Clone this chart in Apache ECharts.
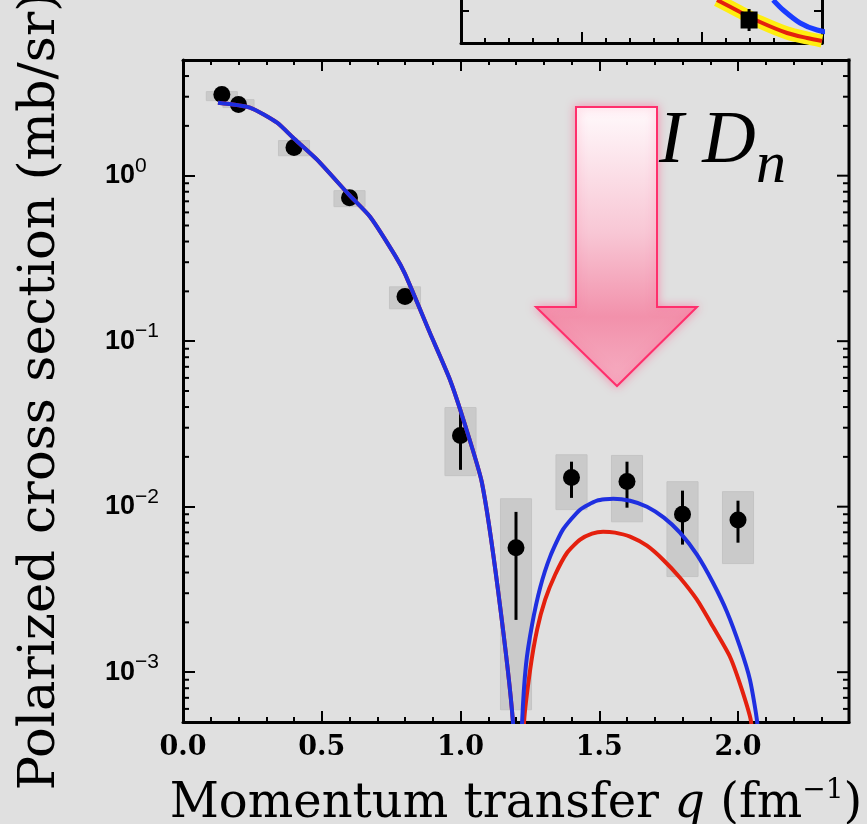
<!DOCTYPE html>
<html><head><meta charset="utf-8">
<script src="https://cdn.jsdelivr.net/npm/echarts@6/dist/echarts.min.js"></script>
<style>html,body{margin:0;padding:0;background:#e0e0e0;}#c{width:867px;height:824px;}</style>
</head><body><div id="c"></div>
<script>
// ---- measured data points (q in fm^-1, cross section in mb/sr) ----
const qData  = [0.14, 0.20, 0.40, 0.60, 0.80, 1.00, 1.20, 1.40, 1.60, 1.80, 2.00];
const sigma  = [3.09, 2.69, 1.48, 0.736, 0.186, 0.0269, 0.00565, 0.0150, 0.0142, 0.0090, 0.0083];
const errLo  = [3.00, 2.60, 1.43, 0.71, 0.175, 0.0167, 0.00207, 0.0113, 0.00986, 0.0059, 0.00606];
const errHi  = [3.18, 2.78, 1.53, 0.76, 0.198, 0.0370, 0.0093, 0.0187, 0.0187, 0.0125, 0.01087];
const sysLo  = [2.84, 2.58, 1.32, 0.650, 0.157, 0.0154, 0.000593, 0.0096, 0.0081, 0.00378, 0.00453];
const sysHi  = [3.22, 2.88, 1.63, 0.812, 0.213, 0.0397, 0.01117, 0.0206, 0.0204, 0.01416, 0.01233];

// ---- theory curves ----
const blueQ = [0.126, 0.241, 0.339, 0.396, 0.483, 0.598, 0.674, 0.764, 0.800, 0.890, 0.962, 1.016, 1.077, 1.135, 1.189, 1.205, 1.222,
               1.236, 1.258, 1.287, 1.323, 1.369, 1.431, 1.492, 1.550, 1.611, 1.672, 1.733, 1.791, 1.852, 1.910, 1.960, 2.007, 2.043, 2.069, 2.085];
const blueV = [2.76, 2.58, 2.09, 1.70, 1.25, 0.768, 0.565, 0.33, 0.255, 0.112, 0.0585, 0.0313, 0.0140, 0.00315, 0.0005, 0.00008, 0.0005,
               0.00111, 0.00194, 0.00324, 0.00499, 0.00726, 0.00959, 0.01087, 0.01118, 0.01087, 0.0100, 0.00859, 0.00697, 0.00513, 0.00347, 0.00232, 0.001426, 0.000901, 0.0005, 0.0002];
const redQ  = [0.126, 0.241, 0.339, 0.396, 0.483, 0.598, 0.674, 0.764, 0.800, 0.890, 0.962, 1.016, 1.077, 1.135, 1.189, 1.207, 1.229,
               1.251, 1.276, 1.305, 1.341, 1.384, 1.431, 1.474, 1.514, 1.557, 1.611, 1.672, 1.730, 1.791, 1.852, 1.910, 1.971, 2.014, 2.047, 2.060];
const redV  = [2.76, 2.58, 2.09, 1.70, 1.25, 0.768, 0.565, 0.33, 0.255, 0.112, 0.0585, 0.0313, 0.0140, 0.00315, 0.0005, 0.00008, 0.0005,
               0.001035, 0.001807, 0.00274, 0.00388, 0.00527, 0.00632, 0.00687, 0.00706, 0.00697, 0.00659, 0.00581, 0.00478, 0.00372, 0.00274, 0.00188, 0.00124, 0.000784, 0.000502, 0.0002];

// ---- axis ticks ----
const xTicks = [0.0, 0.5, 1.0, 1.5, 2.0];
const yMajor = [0.001, 0.01, 0.1, 1];
const yDecades = [-4, -3, -2, -1, 0];
const yMantissas = [2, 3, 4, 5, 6, 7, 8, 9];

// ---- inset (partially visible panel, top right) ----
const insetRedQ  = [2.128, 2.319, 2.485, 2.710, 2.876, 3.000];
const insetRedV  = [0.215, 0.155, 0.105, 0.050, 0.025, 0.010];
const insetBlueQ = [2.594, 2.677, 2.818, 2.959, 3.150, 3.358];
const insetBlueV = [0.215, 0.165, 0.100, 0.065, 0.045, 0.035];
const insetPointQ = [2.394];
const insetPointV = [0.115];
const insetPointErr = [0.055];

const X0 = 0, X1 = 2.4, Y0 = 5e-4, Y1 = 5;

const minorVals = [];
yDecades.forEach(d => yMantissas.forEach(m => { const v = m * Math.pow(10, d); if (v > Y0 && v < Y1) minorVals.push(v); }));
const tickRows = yMajor.map(v => [X0, v, 12]).concat(minorVals.map(v => [X0, v, 6]));

const chart = echarts.init(document.getElementById('c'), null, {renderer: 'canvas'});

function supLabel(v) {
  const l = Math.log10(v), e = Math.round(l);
  if (Math.abs(l - e) > 1e-6) return '';
  return '{b|10}{s|' + (e < 0 ? '\u2212' + (-e) : e) + '}';
}

const axisLine = {show: true, onZero: false, lineStyle: {color: '#000', width: 3}};
const xCommon = {
  type: 'value', min: X0, max: X1, interval: 0.5,
  axisLine, splitLine: {show: false},
  axisTick: {show: true, inside: true, length: 11, lineStyle: {color: '#000', width: 2}},
  minorTick: {show: true, splitNumber: 5, length: 5, lineStyle: {color: '#000', width: 2}}
};

const option = {
  animation: false,
  backgroundColor: '#e0e0e0',
  grid: [
    {left: 183, right: 18, top: 60, bottom: 102, containLabel: false, outerBoundsMode: 'none'},
    {left: 461, right: 45, top: -157, bottom: 781, containLabel: false, outerBoundsMode: 'none'}
  ],
  xAxis: [
    Object.assign({}, xCommon, {
      gridIndex: 0, position: 'bottom',
      axisLabel: {show: true, margin: 12, color: '#000', fontFamily: 'DejaVu Serif', fontWeight: 'bold', fontSize: 27,
        formatter: v => xTicks.some(t => Math.abs(t - v) < 1e-9) ? v.toFixed(1) : ''},
      name: '{n|Momentum transfer }{i|q}{n| (fm}{s|\u22121}{n|)}',
      nameLocation: 'middle', nameGap: 55,
      nameTextStyle: {rich: {
        n: {fontFamily: 'DejaVu Serif', fontSize: 48, lineHeight: 56, color: '#000'},
        i: {fontFamily: 'DejaVu Serif', fontStyle: 'italic', fontSize: 48, lineHeight: 56, color: '#000'},
        s: {fontFamily: 'DejaVu Serif', fontSize: 28, lineHeight: 26, verticalAlign: 'top', color: '#000'}
      }}
    }),
    Object.assign({}, xCommon, {gridIndex: 0, position: 'top', axisLabel: {show: false}}),
    {type: 'value', gridIndex: 1, min: 0, max: 3, interval: 1, position: 'bottom',
      axisLine, splitLine: {show: false}, axisLabel: {show: false},
      axisTick: {show: true, inside: true, length: 11, lineStyle: {color: '#000', width: 2}},
      minorTick: {show: true, splitNumber: 5, length: 5, lineStyle: {color: '#000', width: 2}}}
  ],
  yAxis: [
    {type: 'log', min: Y0, max: Y1, logBase: 10, gridIndex: 0, position: 'left',
      axisLine, splitLine: {show: false},
      axisTick: {show: true, inside: true, length: 12, lineStyle: {color: '#000', width: 2}},
      axisLabel: {show: true, margin: 78, align: 'left', formatter: supLabel,
        rich: {
          b: {fontFamily: 'Liberation Sans', fontWeight: 'bold', fontSize: 27, lineHeight: 40, color: '#000'},
          s: {fontFamily: 'Liberation Sans', fontSize: 21, lineHeight: 21, verticalAlign: 'top', color: '#000'}
        }},
      name: 'Polarized cross section (mb/sr)',
      nameLocation: 'middle', nameGap: 116, nameRotate: 90,
      nameTextStyle: {fontFamily: 'DejaVu Serif', fontSize: 51, lineHeight: 52, color: '#000'}
    },
    {type: 'value', gridIndex: 1, min: 0, max: 1, interval: 0.16, position: 'left',
      axisLine, splitLine: {show: false}, axisLabel: {show: false},
      axisTick: {show: true, inside: true, length: 8, lineStyle: {color: '#000', width: 2}}},
    {type: 'value', gridIndex: 1, min: 0, max: 1, interval: 0.16, position: 'right',
      axisLine, splitLine: {show: false}, axisLabel: {show: false},
      axisTick: {show: true, inside: true, length: 8, lineStyle: {color: '#000', width: 2}}}
  ],
  series: [
    // log ticks: minor ticks on left axis; major + minor ticks on the right edge
    {type: 'custom', xAxisIndex: 0, yAxisIndex: 0, silent: true, z: 10,
      data: tickRows,
      renderItem: (params, api) => {
        const v = api.value(1), len = api.value(2);
        const pl = api.coord([X0, v]), pr = api.coord([X1, v]);
        const kids = [{type: 'line', shape: {x1: pr[0], y1: pr[1], x2: pr[0] - len, y2: pr[1]}, style: {stroke: '#000', lineWidth: 2}}];
        if (len < 10) kids.push({type: 'line', shape: {x1: pl[0], y1: pl[1], x2: pl[0] + len, y2: pl[1]}, style: {stroke: '#000', lineWidth: 2}});
        return {type: 'group', children: kids};
      }},
    // systematic-error boxes
    {type: 'custom', xAxisIndex: 0, yAxisIndex: 0, z: 1,
      data: qData.map((q, i) => [q, sysLo[i], sysHi[i]]),
      renderItem: (params, api) => {
        const q = api.value(0);
        const a = api.coord([q - 0.056, api.value(2)]), b = api.coord([q + 0.056, api.value(1)]);
        return {type: 'rect', shape: {x: a[0], y: a[1], width: b[0] - a[0], height: b[1] - a[1]},
          style: {fill: '#cacaca', stroke: '#c4c4c4', lineWidth: 1}};
      }},
    // statistical error bars
    {type: 'custom', xAxisIndex: 0, yAxisIndex: 0, z: 2,
      data: qData.map((q, i) => [q, errLo[i], errHi[i]]),
      renderItem: (params, api) => {
        const a = api.coord([api.value(0), api.value(1)]), b = api.coord([api.value(0), api.value(2)]);
        return {type: 'line', shape: {x1: a[0], y1: a[1], x2: b[0], y2: b[1]}, style: {stroke: '#000', lineWidth: 3}};
      }},
    {type: 'scatter', xAxisIndex: 0, yAxisIndex: 0, z: 3, symbol: 'circle', symbolSize: 17,
      itemStyle: {color: '#000', opacity: 1}, data: qData.map((q, i) => [q, sigma[i]])},
    {type: 'line', xAxisIndex: 0, yAxisIndex: 0, z: 4, showSymbol: false, clip: true, smooth: 0.2,
      lineStyle: {color: '#e4200e', width: 4}, data: redQ.map((q, i) => [q, redV[i]])},
    {type: 'line', xAxisIndex: 0, yAxisIndex: 0, z: 5, showSymbol: false, clip: true, smooth: 0.2,
      lineStyle: {color: '#1f2fe0', width: 4}, data: blueQ.map((q, i) => [q, blueV[i]])},
    // inset
    {type: 'line', xAxisIndex: 2, yAxisIndex: 1, showSymbol: false, clip: true, z: 2, smooth: 0.3,
      lineStyle: {color: '#ffee10', width: 13}, data: insetRedQ.map((q, i) => [q, insetRedV[i]])},
    {type: 'line', xAxisIndex: 2, yAxisIndex: 1, showSymbol: false, clip: true, z: 3, smooth: 0.3,
      lineStyle: {color: '#e4200e', width: 4}, data: insetRedQ.map((q, i) => [q, insetRedV[i]])},
    {type: 'custom', xAxisIndex: 2, yAxisIndex: 1, z: 4,
      data: insetPointQ.map((q, i) => [q, insetPointV[i] - insetPointErr[i], insetPointV[i] + insetPointErr[i]]),
      renderItem: (params, api) => {
        const a = api.coord([api.value(0), api.value(1)]), b = api.coord([api.value(0), api.value(2)]);
        return {type: 'line', shape: {x1: a[0], y1: a[1], x2: b[0], y2: b[1]}, style: {stroke: '#000', lineWidth: 3}};
      }},
    {type: 'scatter', xAxisIndex: 2, yAxisIndex: 1, z: 5, symbol: 'rect', symbolSize: 17,
      itemStyle: {color: '#000', opacity: 1}, data: insetPointQ.map((q, i) => [q, insetPointV[i]])},
    {type: 'line', xAxisIndex: 2, yAxisIndex: 1, showSymbol: false, clip: false, z: 6, smooth: 0.3,
      lineStyle: {color: '#1a3cff', width: 5}, data: insetBlueQ.map((q, i) => [q, insetBlueV[i]])}
  ],
  graphic: [
    {id: 'arrow', type: 'polygon', z: 100,
      shape: {points: [[576, 107], [657, 107], [657, 307], [697, 307], [617, 386], [536, 307], [576, 307]]},
      style: {
        fill: new echarts.graphic.LinearGradient(0, 0, 0, 1, [
          {offset: 0, color: '#fffafc'}, {offset: 0.45, color: '#f8c7d5'},
          {offset: 0.75, color: '#f291ab'}, {offset: 1, color: '#f6afc3'}]),
        stroke: '#ff2f6c', lineWidth: 2, shadowBlur: 10, shadowColor: 'rgba(255,90,140,0.55)'
      }},
    {id: 'txtID', type: 'text', z: 100, x: 659, y: 143,
      style: {text: 'I D', font: 'italic 74px "Liberation Serif"', fill: '#000', verticalAlign: 'middle', align: 'left'}},
    {id: 'txtN', type: 'text', z: 100, x: 756, y: 166,
      style: {text: 'n', font: 'italic 60px "Liberation Serif"', fill: '#000', verticalAlign: 'middle', align: 'left'}}
  ]
};
chart.setOption(option);

// right-hand frame edge of the main panel, placed through the axes' own scales
const pB = chart.convertToPixel({xAxisIndex: 0, yAxisIndex: 0}, [X1, Y0]);
const pT = chart.convertToPixel({xAxisIndex: 0, yAxisIndex: 0}, [X1, Y1]);
chart.setOption({graphic: [
  {id: 'frameRight', type: 'line', z: 50, silent: true,
    shape: {x1: pB[0], y1: pB[1] + 1.5, x2: pT[0], y2: pT[1] - 1.5},
    style: {stroke: '#000', lineWidth: 3}}]});
</script></body></html>
